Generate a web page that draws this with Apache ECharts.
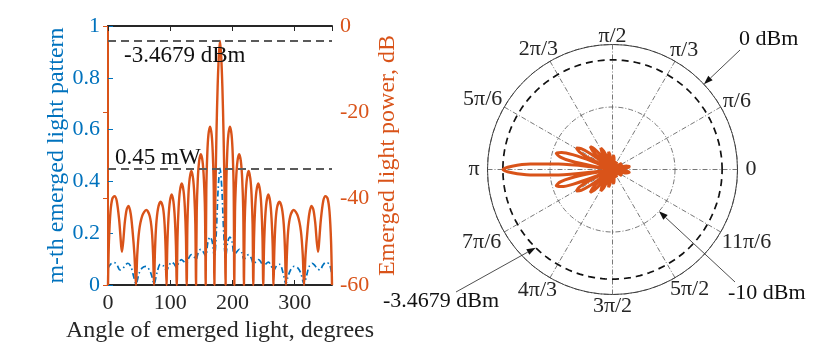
<!DOCTYPE html>
<html>
<head>
<meta charset="utf-8">
<script src="https://cdn.jsdelivr.net/npm/echarts@6/dist/echarts.min.js"></script>
<style>
  html, body { margin: 0; padding: 0; background: #fff; }
  #chart { width: 830px; height: 352px; }
</style>
</head>
<body>
<div id="chart"></div>
<script>
// --- left panel: emerged light power, dB (orange, right axis) ---
const powerAngles = [
  0, 1.5, 4, 7, 10.5, 14, 18, 22.6, 27, 30, 33, 36.5, 39.5, 42.5, 45,
  47, 50, 55, 61.5, 67, 70.5, 72.5, 74,
  75.5, 77.5, 80.5, 84.5, 88.5, 91, 92.7, 94,
  95.3, 97.2, 99.5, 102.3, 105.1, 107.4, 109.2, 110.5,
  111.7, 113.5, 115.6, 118.5, 121.4, 123.5, 125.3, 126.5,
  127.6, 129.3, 131.3, 134, 136.7, 138.7, 140.4, 141.5,
  142.6, 144.3, 146.4, 149.2, 152, 154.1, 155.9, 157,
  158, 159.6, 161.4, 164, 166.6, 168.4, 170, 171,
  172.5, 174.3, 176.2, 178.1, 180, 181.9, 183.8, 185.7, 187.5, 189,
  190, 191.6, 193.4, 196, 198.6, 200.4, 202, 203,
  204.1, 205.9, 208, 210.8, 213.6, 215.7, 217.4, 218.5,
  219.6, 221.3, 223.3, 226, 228.7, 230.7, 232.4, 233.5,
  234.7, 236.5, 238.6, 241.5, 244.4, 246.5, 248.3, 249.5,
  250.8, 252.6, 254.9, 257.7, 260.5, 262.8, 264.7, 266,
  267.3, 269, 271.5, 275.5, 279.5, 282.5, 284.5, 286,
  287.5, 289.5, 293, 298.5, 305, 310, 313, 315,
  317.5, 320.5, 323.5, 327, 330, 333, 337.4, 342, 346, 349.5, 353, 356, 358.5, 360
];
const powerDb = [
  -60, -50, -43, -40, -39.4, -40.5, -45, -52.3, -45.5, -42.5, -41.7, -43.5, -47.5, -53, -60,
  -53, -47.5, -44, -42.6, -44, -47.5, -53, -60,
  -52, -46, -42.2, -40.7, -42.2, -46, -52, -60,
  -51, -44.5, -40.6, -39, -40.6, -44.5, -51, -60,
  -49, -42, -38.2, -36.5, -38.2, -42, -49, -60,
  -46, -39, -35.3, -33.6, -35.3, -39, -46, -60,
  -43, -35.5, -31.4, -29.7, -31.4, -35.5, -43, -60,
  -38, -29.5, -25.2, -23.3, -25.2, -29.5, -38, -60,
  -40, -25, -14, -7, -3.4679, -7, -14, -25, -40, -60,
  -38, -29.5, -25.2, -23.3, -25.2, -29.5, -38, -60,
  -43, -35.5, -31.4, -29.7, -31.4, -35.5, -43, -60,
  -46, -39, -35.3, -33.6, -35.3, -39, -46, -60,
  -49, -42, -38.2, -36.5, -38.2, -42, -49, -60,
  -51, -44.5, -40.6, -39, -40.6, -44.5, -51, -60,
  -52, -46, -42.2, -40.7, -42.2, -46, -52, -60,
  -53, -47.5, -44, -42.6, -44, -47.5, -53, -60,
  -53, -47.5, -43.5, -41.7, -42.5, -45.5, -52.3, -45, -40.5, -39.4, -40, -43, -50, -60
];

// --- left panel: m-th emerged light pattern (blue dash-dot, left axis) ---
const patternAngles = [
  0, 4, 10, 15, 19, 24, 28, 32, 37, 41,
  45, 50, 55, 61, 67, 71, 74, 79, 84, 89,
  94, 98, 102, 106, 110, 114, 118, 122, 126, 130,
  134, 138, 141.5, 145, 149, 153, 157, 160.5, 164, 167.5,
  171, 174, 177, 180, 183, 186, 189, 192.5, 196, 199.5,
  203, 207, 211, 215, 218.5, 222, 226, 230, 234, 238,
  242, 246, 250, 254, 258, 262, 266, 271, 276, 281,
  286, 289, 293, 299, 305, 310, 315, 319, 323, 328,
  332, 336, 341, 345, 350, 356, 360
];
const patternValues = [
  0.065, 0.08, 0.087, 0.075, 0.058, 0.064, 0.077, 0.084, 0.07, 0.035,
  0.004, 0.045, 0.066, 0.072, 0.056, 0.03, 0.004, 0.05, 0.08, 0.074,
  0.055, 0.075, 0.088, 0.082, 0.068, 0.088, 0.098, 0.09, 0.082, 0.105,
  0.117, 0.11, 0.098, 0.125, 0.138, 0.128, 0.112, 0.165, 0.185, 0.168,
  0.105, 0.2, 0.37, 0.45, 0.37, 0.2, 0.105, 0.168, 0.185, 0.165,
  0.112, 0.128, 0.138, 0.125, 0.098, 0.11, 0.117, 0.105, 0.082, 0.09,
  0.098, 0.088, 0.068, 0.082, 0.088, 0.075, 0.055, 0.074, 0.08, 0.05,
  0.004, 0.03, 0.056, 0.072, 0.066, 0.045, 0.004, 0.035, 0.07, 0.084,
  0.077, 0.064, 0.058, 0.075, 0.087, 0.08, 0.035
];

const peakDbm = -3.4679;   // dashed reference on right axis
const levelMw = 0.45;      // dashed reference on left axis

// --- right panel: polar ---
const angleLabels = ['0', 'π/6', 'π/3', 'π/2', '2π/3', '5π/6', 'π', '7π/6', '4π/3', '3π/2', '5π/2', '11π/6'];
// per-label nudges: padding [top, right, bottom, left] and line height
const angleLabelPad = [
  [0, 0, 0, 8], [0, 0, 0, 2], [0, 0, 0, -5], [0, 0, 0, 0],
  [0, -8, 2, 0], [0, 2, 0, 0], [0, 8, 0, 0], [0, 3, 0, 0],
  [3, -7, 0, 0], [1, 0, 0, 0], [1, 0, 0, -5], [0, 0, 0, 1]
];
const angleLabelLine = [22, 12, 22, 17, 22, 16, 22, 21, 22, 22, 22, 20];
const polarFloor = -46;     // centre of the polar plot
const polarTop = 2.5;       // outer ring
const innerRing = -21.75;   // dash-dot inner ring
const ringAnnotations = [
  { text: '0 dBm', x: 739, y: 39, tail: [740, 50], r: polarTop, a: 43 },
  { text: '-10 dBm', x: 728, y: 293, tail: [735, 282], r: innerRing, a: 318 },
  { text: '-3.4679 dBm', x: 383, y: 301, tail: [456, 292], r: peakDbm, a: 225.5 }
];

const BLUE = '#0072BD';
const ORANGE = '#D95319';
const INK = '#262626';
const SERIF = '"Liberation Serif", "Times New Roman", serif';

const powerData = powerAngles.map((a, i) => [a, powerDb[i]]);
const patternData = patternAngles.map((a, i) => [a, patternValues[i]]);
const polarData = powerAngles.map((a, i) => [Math.max(powerDb[i], polarFloor), a]);
const ringData = powerAngles.map(a => [peakDbm, a]);

const angleRich = {};
angleLabelPad.forEach((p, i) => {
  angleRich['a' + i] = { padding: p, lineHeight: angleLabelLine[i], fontSize: 22, fontFamily: SERIF, color: INK };
});

const chart = echarts.init(document.getElementById('chart'), null, { renderer: 'canvas' });

const option = {
  animation: false,
  backgroundColor: '#fff',
  textStyle: { fontFamily: SERIF },
  grid: { left: 108, right: 498, top: 26, bottom: 67 },
  xAxis: [
    {
      type: 'value', min: 0, max: 360, interval: 100,
      name: 'Angle of emerged light, degrees',
      nameLocation: 'middle', nameGap: 34,
      nameTextStyle: { color: INK, fontSize: 24, fontFamily: SERIF },
      axisLine: { lineStyle: { color: INK, width: 2 } },
      axisTick: { inside: true, length: 5, lineStyle: { color: INK, width: 1 } },
      axisLabel: { color: INK, fontSize: 22, fontFamily: SERIF, margin: 7, showMaxLabel: false },
      splitLine: { show: false }
    },
    {
      type: 'value', min: 0, max: 360, interval: 100, position: 'top',
      axisLine: { lineStyle: { color: INK, width: 2 } },
      axisTick: { inside: true, length: 5, lineStyle: { color: INK, width: 1 } },
      axisLabel: { show: false },
      splitLine: { show: false }
    }
  ],
  yAxis: [
    {
      type: 'value', min: 0, max: 1, interval: 0.2, position: 'left',
      name: 'm-th emerged light pattern',
      nameLocation: 'middle', nameRotate: 90, nameGap: 35,
      nameTextStyle: { color: BLUE, fontSize: 24, fontFamily: SERIF },
      axisLine: { show: true, lineStyle: { color: BLUE, width: 2 } },
      axisTick: { show: true, inside: true, length: 5, lineStyle: { color: BLUE, width: 1 } },
      axisLabel: { color: BLUE, fontSize: 22, fontFamily: SERIF, margin: 8 },
      splitLine: { show: false }
    },
    {
      type: 'value', min: -60, max: 0, interval: 20, position: 'right',
      name: 'Emerged light power, dB',
      nameLocation: 'middle', nameRotate: 90, nameGap: 44,
      nameTextStyle: { color: ORANGE, fontSize: 24, fontFamily: SERIF },
      axisLine: { show: true, lineStyle: { color: ORANGE, width: 2 } },
      axisTick: { show: true, inside: true, length: 5, lineStyle: { color: ORANGE, width: 1 } },
      axisLabel: { color: ORANGE, fontSize: 22, fontFamily: SERIF, margin: 8 },
      splitLine: { show: false }
    }
  ],
  polar: { center: [612.5, 169.5], radius: 125 },
  angleAxis: {
    type: 'value', min: 0, max: 360, interval: 30,
    startAngle: 0, clockwise: false,
    axisLine: { lineStyle: { color: '#333', width: 0.9 } },
    axisTick: { show: false },
    axisLabel: {
      color: INK, fontSize: 22, fontFamily: SERIF, margin: 0,
      formatter: v => {
        const i = Math.round(v / 30);
        return v >= 360 ? '' : '{a' + i + '|' + angleLabels[i] + '}';
      },
      rich: angleRich
    },
    splitLine: { show: true, lineStyle: { color: '#555', width: 0.8, type: [5, 2, 1, 2] } }
  },
  radiusAxis: {
    type: 'value', min: polarFloor, max: polarTop, interval: polarTop - innerRing,
    axisLine: { show: false },
    axisTick: { show: false },
    axisLabel: { show: false },
    splitLine: { show: true, lineStyle: { color: '#555', width: 0.8, type: [5, 2, 1, 2] } }
  },
  series: [
    {
      name: 'pattern', type: 'line', xAxisIndex: 0, yAxisIndex: 0,
      data: patternData, smooth: 0.3, showSymbol: false, z: 2,
      lineStyle: { color: BLUE, width: 1.7, type: [6, 3, 1.5, 3] },
      markLine: {
        silent: true, symbol: 'none',
        lineStyle: { color: '#5a5a5a', width: 2, type: [8, 5] },
        label: {
          show: true, position: 'insideStartTop', formatter: '0.45 mW',
          color: '#111', fontSize: 23, fontFamily: SERIF, distance: [7, -1]
        },
        data: [{ yAxis: levelMw }]
      }
    },
    {
      name: 'power', type: 'line', xAxisIndex: 0, yAxisIndex: 1,
      data: powerData, smooth: 0.3, showSymbol: false, z: 3,
      lineStyle: { color: ORANGE, width: 2.4 },
      markLine: {
        silent: true, symbol: 'none',
        lineStyle: { color: '#5a5a5a', width: 2, type: [8, 5] },
        label: {
          show: true, position: 'insideStartBottom', formatter: '-3.4679 dBm',
          color: '#111', fontSize: 23, fontFamily: SERIF, distance: [16, 3]
        },
        data: [{ yAxis: peakDbm }]
      }
    },
    {
      name: 'polar ring', type: 'line', coordinateSystem: 'polar',
      data: ringData, showSymbol: false, z: 2,
      lineStyle: { color: '#111', width: 1.7, type: [7, 5] }
    },
    {
      name: 'polar power', type: 'line', coordinateSystem: 'polar',
      data: polarData, smooth: 0.3, showSymbol: false, z: 3,
      lineStyle: { color: ORANGE, width: 3 }
    }
  ]
};

chart.setOption(option);

// arrows from the annotation texts to the rings they name
const graphics = [];
ringAnnotations.forEach(n => {
  const tip = chart.convertToPixel({ seriesIndex: 3 }, [n.r, n.a]);
  if (!tip) return;
  const [tx, ty] = n.tail;
  const dx = tip[0] - tx, dy = tip[1] - ty;
  const len = Math.sqrt(dx * dx + dy * dy);
  const ux = dx / len, uy = dy / len;
  const headL = 9, headW = 3.2;
  const bx = tip[0] - ux * headL, by = tip[1] - uy * headL;
  graphics.push({
    type: 'line', silent: true,
    shape: { x1: tx, y1: ty, x2: bx, y2: by },
    style: { stroke: '#222', lineWidth: 0.8 }
  });
  graphics.push({
    type: 'polygon', silent: true,
    shape: { points: [tip, [bx - uy * headW, by + ux * headW], [bx + uy * headW, by - ux * headW]] },
    style: { fill: '#111' }
  });
  graphics.push({
    type: 'text', silent: true,
    style: { text: n.text, x: n.x, y: n.y, font: '22px ' + SERIF, fill: '#111', align: 'left', verticalAlign: 'middle' }
  });
});
chart.setOption({ graphic: graphics });
</script>
</body>
</html>
